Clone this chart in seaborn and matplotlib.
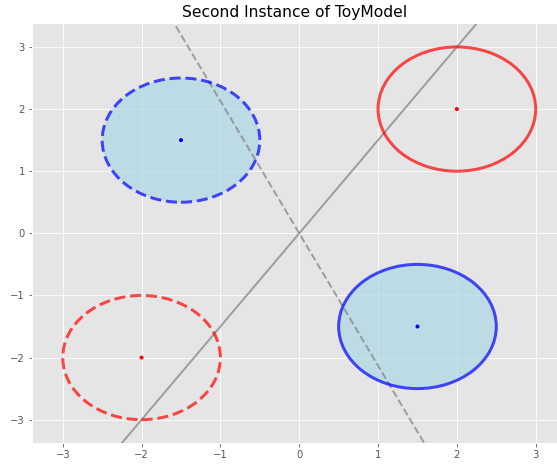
import matplotlib
matplotlib.use("Agg")
import matplotlib.pyplot as plt
from matplotlib.patches import Ellipse
import seaborn as sns
import pandas as pd
import numpy as np

plt.style.use("ggplot")

# data
centers_x = [2.0, -1.5, 1.5, -2.0]
centers_y = [2.0, 1.5, -1.5, -2.0]
center_colors = ["red", "blue", "blue", "red"]
radius = 1.0
edge_colors = ["red", "blue", "blue", "red"]
edge_styles = ["solid", "dashed", "solid", "dashed"]
filled = [False, True, True, False]
slope_solid = 1.5
slope_dashed = -2.13
x_ticks = [-3, -2, -1, 0, 1, 2, 3]
y_ticks = [-3, -2, -1, 0, 1, 2, 3]
title = "Second Instance of ToyModel"

fig = plt.figure(figsize=(557 / 72, 466 / 72), dpi=72)
ax = fig.add_axes([32 / 557, (466 - 443.3) / 466, 1 - 32 / 557, (443.3 - 22.7) / 466])

xlim = (-3.39, 3.27)
ylim = (-3.38, 3.39)

xs = np.array([xlim[0] - 1, xlim[1] + 1])
lines_df = pd.DataFrame({
    "x": np.concatenate([xs, xs]),
    "y": np.concatenate([slope_solid * xs, slope_dashed * xs]),
    "kind": ["solid"] * 2 + ["dashed"] * 2,
})
sns.lineplot(data=lines_df[lines_df.kind == "solid"], x="x", y="y", color="gray",
             alpha=0.7, lw=2, ax=ax, zorder=2)
sns.lineplot(data=lines_df[lines_df.kind == "dashed"], x="x", y="y", color="gray",
             alpha=0.7, lw=2, ls="--", ax=ax, zorder=2)

for cx, cy, ec, ls, f in zip(centers_x, centers_y, edge_colors, edge_styles, filled):
    if f:
        ax.add_patch(Ellipse((cx, cy), 2 * radius, 2 * radius, facecolor="lightblue",
                             edgecolor="none", alpha=0.7, zorder=1.5))
    ax.add_patch(Ellipse((cx, cy), 2 * radius, 2 * radius, facecolor="none",
                         edgecolor=ec, lw=3, ls=ls, alpha=0.7, zorder=3))

pts = pd.DataFrame({"x": centers_x, "y": centers_y, "c": center_colors})
sns.scatterplot(data=pts, x="x", y="y", hue="c", palette={"red": "red", "blue": "blue"},
                s=16, edgecolor="none", legend=False, ax=ax, zorder=4)

ax.set_xlim(*xlim)
ax.set_ylim(*ylim)
ax.set_xticks(x_ticks)
ax.set_yticks(y_ticks)
ax.set_xticklabels([f"{t}" if t >= 0 else f"\u2212{abs(t)}" for t in x_ticks])
ax.set_yticklabels([f"{t}" if t >= 0 else f"\u2212{abs(t)}" for t in y_ticks])
ax.set_xlabel("")
ax.set_ylabel("")
ax.set_title(title, fontsize=15.5, color="black")

fig.savefig("out.png", dpi=72)
